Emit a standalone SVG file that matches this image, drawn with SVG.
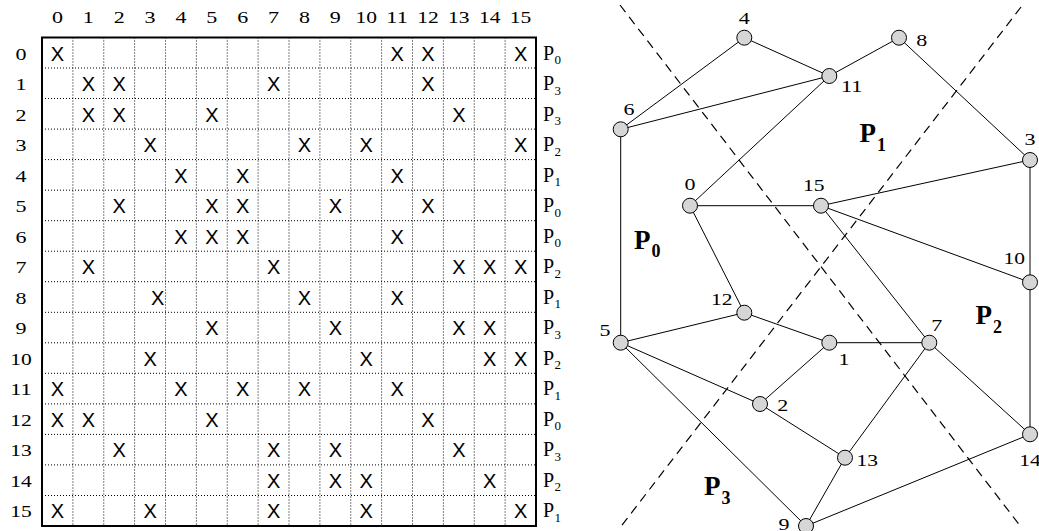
<svg xmlns="http://www.w3.org/2000/svg" width="1039" height="531" viewBox="0 0 1039 531">
  <style>
    .num { font-family: "Liberation Serif", "Times New Roman", serif; font-size: 17px; fill: #000; text-anchor: middle; }
    .x { font-family: "Liberation Sans", Arial, sans-serif; font-size: 20px; fill: #000; text-anchor: middle; }
    .pl { font-family: "Liberation Serif", "Times New Roman", serif; font-size: 20px; fill: #000; }
    .ps { font-family: "Liberation Serif", "Times New Roman", serif; font-size: 13px; fill: #000; }
    .grid { stroke: #000; stroke-width: 1; stroke-dasharray: 1 2; fill: none; }
    .frame { stroke: #000; stroke-width: 2; fill: none; }
    .edge { stroke: #000; stroke-width: 1; fill: none; }
    .cut { stroke: #000; stroke-width: 1.2; stroke-dasharray: 9 6; fill: none; }
    .node circle { fill: #d6d6d6; stroke: #000; stroke-width: 1; }
    .part { font-family: "Liberation Serif", "Times New Roman", serif; font-weight: bold; font-size: 27px; fill: #000; }
    .partsub { font-family: "Liberation Serif", "Times New Roman", serif; font-weight: bold; font-size: 18px; fill: #000; }
  </style>

  <!-- Adjacency matrix -->
  <g id="matrix">
    <path class="grid" d="M72.9 37.5V526M103.75 37.5V526M134.6 37.5V526M165.5 37.5V526M196.4 37.5V526M227.25 37.5V526M258.1 37.5V526M289 37.5V526M319.9 37.5V526M350.75 37.5V526M381.6 37.5V526M412.5 37.5V526M443.4 37.5V526M474.25 37.5V526M505.1 37.5V526
      M42 68H536M42 98.5H536M42 129.1H536M42 159.6H536M42 190.2H536M42 220.7H536M42 251.2H536M42 281.7H536M42 312.3H536M42 342.8H536M42 373.3H536M42 403.9H536M42 434.4H536M42 464.9H536M42 495.5H536"/>
    <rect class="frame" x="42" y="37.5" width="494" height="488.5"/>

    <!-- column indices -->
    <g id="col-labels">
      <text class="num" x="57.4" y="22.5" textLength="11" lengthAdjust="spacingAndGlyphs">0</text>
      <text class="num" x="88.3" y="22.5" textLength="11" lengthAdjust="spacingAndGlyphs">1</text>
      <text class="num" x="119.2" y="22.5" textLength="11" lengthAdjust="spacingAndGlyphs">2</text>
      <text class="num" x="150.1" y="22.5" textLength="11" lengthAdjust="spacingAndGlyphs">3</text>
      <text class="num" x="180.9" y="22.5" textLength="11" lengthAdjust="spacingAndGlyphs">4</text>
      <text class="num" x="211.8" y="22.5" textLength="11" lengthAdjust="spacingAndGlyphs">5</text>
      <text class="num" x="242.7" y="22.5" textLength="11" lengthAdjust="spacingAndGlyphs">6</text>
      <text class="num" x="273.6" y="22.5" textLength="11" lengthAdjust="spacingAndGlyphs">7</text>
      <text class="num" x="304.4" y="22.5" textLength="11" lengthAdjust="spacingAndGlyphs">8</text>
      <text class="num" x="335.3" y="22.5" textLength="11" lengthAdjust="spacingAndGlyphs">9</text>
      <text class="num" x="366.2" y="22.5" textLength="21.5" lengthAdjust="spacingAndGlyphs">10</text>
      <text class="num" x="397.1" y="22.5" textLength="21.5" lengthAdjust="spacingAndGlyphs">11</text>
      <text class="num" x="427.9" y="22.5" textLength="21.5" lengthAdjust="spacingAndGlyphs">12</text>
      <text class="num" x="458.8" y="22.5" textLength="21.5" lengthAdjust="spacingAndGlyphs">13</text>
      <text class="num" x="489.7" y="22.5" textLength="21.5" lengthAdjust="spacingAndGlyphs">14</text>
      <text class="num" x="520.6" y="22.5" textLength="21.5" lengthAdjust="spacingAndGlyphs">15</text>
    </g>

    <!-- row indices -->
    <g id="row-labels">
      <text class="num" x="21" y="59.5" textLength="11" lengthAdjust="spacingAndGlyphs">0</text>
      <text class="num" x="21" y="90" textLength="11" lengthAdjust="spacingAndGlyphs">1</text>
      <text class="num" x="21" y="120.5" textLength="11" lengthAdjust="spacingAndGlyphs">2</text>
      <text class="num" x="21" y="151" textLength="11" lengthAdjust="spacingAndGlyphs">3</text>
      <text class="num" x="21" y="181.5" textLength="11" lengthAdjust="spacingAndGlyphs">4</text>
      <text class="num" x="21" y="212" textLength="11" lengthAdjust="spacingAndGlyphs">5</text>
      <text class="num" x="21" y="242.5" textLength="11" lengthAdjust="spacingAndGlyphs">6</text>
      <text class="num" x="21" y="273" textLength="11" lengthAdjust="spacingAndGlyphs">7</text>
      <text class="num" x="21" y="303.5" textLength="11" lengthAdjust="spacingAndGlyphs">8</text>
      <text class="num" x="21" y="334" textLength="11" lengthAdjust="spacingAndGlyphs">9</text>
      <text class="num" x="21" y="364.6" textLength="21.5" lengthAdjust="spacingAndGlyphs">10</text>
      <text class="num" x="21" y="395.1" textLength="21.5" lengthAdjust="spacingAndGlyphs">11</text>
      <text class="num" x="21" y="425.6" textLength="21.5" lengthAdjust="spacingAndGlyphs">12</text>
      <text class="num" x="21" y="456.2" textLength="21.5" lengthAdjust="spacingAndGlyphs">13</text>
      <text class="num" x="21" y="486.7" textLength="21.5" lengthAdjust="spacingAndGlyphs">14</text>
      <text class="num" x="21" y="517.2" textLength="21.5" lengthAdjust="spacingAndGlyphs">15</text>
    </g>

    <!-- nonzero entries -->
    <g id="entries">
      <text class="x" x="57.4" y="60.5">X</text><text class="x" x="397.1" y="60.5">X</text><text class="x" x="427.9" y="60.5">X</text><text class="x" x="520.6" y="60.5">X</text>
      <text class="x" x="88.3" y="91">X</text><text class="x" x="119.2" y="91">X</text><text class="x" x="273.6" y="91">X</text><text class="x" x="427.9" y="91">X</text>
      <text class="x" x="88.3" y="121.5">X</text><text class="x" x="119.2" y="121.5">X</text><text class="x" x="211.8" y="121.5">X</text><text class="x" x="458.8" y="121.5">X</text>
      <text class="x" x="150.1" y="152">X</text><text class="x" x="304.4" y="152">X</text><text class="x" x="366.2" y="152">X</text><text class="x" x="520.6" y="152">X</text>
      <text class="x" x="180.9" y="182.6">X</text><text class="x" x="242.7" y="182.6">X</text><text class="x" x="397.1" y="182.6">X</text>
      <text class="x" x="119.2" y="213.1">X</text><text class="x" x="211.8" y="213.1">X</text><text class="x" x="242.7" y="213.1">X</text><text class="x" x="335.3" y="213.1">X</text><text class="x" x="427.9" y="213.1">X</text>
      <text class="x" x="180.9" y="243.6">X</text><text class="x" x="211.8" y="243.6">X</text><text class="x" x="242.7" y="243.6">X</text><text class="x" x="397.1" y="243.6">X</text>
      <text class="x" x="88.3" y="274.2">X</text><text class="x" x="273.6" y="274.2">X</text><text class="x" x="458.8" y="274.2">X</text><text class="x" x="489.7" y="274.2">X</text><text class="x" x="520.6" y="274.2">X</text>
      <text class="x" x="157.6" y="304.7">X</text><text class="x" x="304.4" y="304.7">X</text><text class="x" x="397.1" y="304.7">X</text>
      <text class="x" x="211.8" y="335.2">X</text><text class="x" x="335.3" y="335.2">X</text><text class="x" x="458.8" y="335.2">X</text><text class="x" x="489.7" y="335.2">X</text>
      <text class="x" x="150.1" y="365.8">X</text><text class="x" x="366.2" y="365.8">X</text><text class="x" x="489.7" y="365.8">X</text><text class="x" x="520.6" y="365.8">X</text>
      <text class="x" x="57.4" y="396.3">X</text><text class="x" x="180.9" y="396.3">X</text><text class="x" x="242.7" y="396.3">X</text><text class="x" x="304.4" y="396.3">X</text><text class="x" x="397.1" y="396.3">X</text>
      <text class="x" x="57.4" y="426.8">X</text><text class="x" x="88.3" y="426.8">X</text><text class="x" x="211.8" y="426.8">X</text><text class="x" x="427.9" y="426.8">X</text>
      <text class="x" x="119.2" y="457.4">X</text><text class="x" x="273.6" y="457.4">X</text><text class="x" x="335.3" y="457.4">X</text><text class="x" x="458.8" y="457.4">X</text>
      <text class="x" x="273.6" y="487.9">X</text><text class="x" x="335.3" y="487.9">X</text><text class="x" x="366.2" y="487.9">X</text><text class="x" x="489.7" y="487.9">X</text>
      <text class="x" x="57.4" y="518.4">X</text><text class="x" x="150.1" y="518.4">X</text><text class="x" x="273.6" y="518.4">X</text><text class="x" x="366.2" y="518.4">X</text><text class="x" x="520.6" y="518.4">X</text>
    </g>

    <!-- part owning each row -->
    <g id="row-parts">
      <text class="pl" x="543" y="59.5">P</text><text class="ps" x="554.5" y="64">0</text>
      <text class="pl" x="543" y="90">P</text><text class="ps" x="554.5" y="94.5">3</text>
      <text class="pl" x="543" y="120.5">P</text><text class="ps" x="554.5" y="125">3</text>
      <text class="pl" x="543" y="151">P</text><text class="ps" x="554.5" y="155.5">2</text>
      <text class="pl" x="543" y="181.5">P</text><text class="ps" x="554.5" y="186">1</text>
      <text class="pl" x="543" y="212">P</text><text class="ps" x="554.5" y="216.5">0</text>
      <text class="pl" x="543" y="242.5">P</text><text class="ps" x="554.5" y="247">0</text>
      <text class="pl" x="543" y="273">P</text><text class="ps" x="554.5" y="277.5">2</text>
      <text class="pl" x="543" y="303.5">P</text><text class="ps" x="554.5" y="308">1</text>
      <text class="pl" x="543" y="334">P</text><text class="ps" x="554.5" y="338.5">3</text>
      <text class="pl" x="543" y="364.6">P</text><text class="ps" x="554.5" y="369.1">2</text>
      <text class="pl" x="543" y="395.1">P</text><text class="ps" x="554.5" y="399.6">1</text>
      <text class="pl" x="543" y="425.6">P</text><text class="ps" x="554.5" y="430.1">0</text>
      <text class="pl" x="543" y="456.2">P</text><text class="ps" x="554.5" y="460.7">3</text>
      <text class="pl" x="543" y="486.7">P</text><text class="ps" x="554.5" y="491.2">2</text>
      <text class="pl" x="543" y="517.2">P</text><text class="ps" x="554.5" y="521.7">1</text>
    </g>
  </g>

  <!-- Graph: partition cuts -->
  <g id="cuts">
    <line class="cut" x1="620" y1="5" x2="1021" y2="527"/>
    <line class="cut" x1="1021" y1="7" x2="619" y2="529"/>
  </g>

  <!-- Graph: edges -->
  <g id="edges">
    <line class="edge" x1="744.3" y1="37.7" x2="620.7" y2="129.3"/>
    <line class="edge" x1="744.3" y1="37.7" x2="829.3" y2="76"/>
    <line class="edge" x1="829.3" y1="76" x2="899" y2="37.7"/>
    <line class="edge" x1="829.3" y1="76" x2="620.7" y2="129.3"/>
    <line class="edge" x1="829.3" y1="76" x2="690" y2="205.7"/>
    <line class="edge" x1="899" y1="37.7" x2="1030" y2="160"/>
    <line class="edge" x1="1030" y1="160" x2="821" y2="205.7"/>
    <line class="edge" x1="1030" y1="160" x2="1030" y2="282.3"/>
    <line class="edge" x1="690" y1="205.7" x2="821" y2="205.7"/>
    <line class="edge" x1="690" y1="205.7" x2="744.3" y2="312.7"/>
    <line class="edge" x1="821" y1="205.7" x2="1030" y2="282.3"/>
    <line class="edge" x1="821" y1="205.7" x2="929.3" y2="342.7"/>
    <line class="edge" x1="620.7" y1="129.3" x2="620.7" y2="342.7"/>
    <line class="edge" x1="1030" y1="282.3" x2="1030" y2="434.3"/>
    <line class="edge" x1="620.7" y1="342.7" x2="744.3" y2="312.7"/>
    <line class="edge" x1="744.3" y1="312.7" x2="829.3" y2="342.7"/>
    <line class="edge" x1="829.3" y1="342.7" x2="929.3" y2="342.7"/>
    <line class="edge" x1="829.3" y1="342.7" x2="760" y2="404"/>
    <line class="edge" x1="620.7" y1="342.7" x2="760" y2="404"/>
    <line class="edge" x1="620.7" y1="342.7" x2="806" y2="526"/>
    <line class="edge" x1="760" y1="404" x2="845" y2="457.7"/>
    <line class="edge" x1="929.3" y1="342.7" x2="845" y2="457.7"/>
    <line class="edge" x1="929.3" y1="342.7" x2="1030" y2="434.3"/>
    <line class="edge" x1="845" y1="457.7" x2="806" y2="526"/>
    <line class="edge" x1="806" y1="526" x2="1030" y2="434.3"/>
  </g>

  <!-- Graph: vertices -->
  <g id="n0" class="node"><circle cx="690" cy="205.7" r="7.5"/><text class="num" x="690" y="190" textLength="11" lengthAdjust="spacingAndGlyphs">0</text></g>
  <g id="n1" class="node"><circle cx="829.3" cy="342.7" r="7.5"/><text class="num" x="844" y="365" textLength="11" lengthAdjust="spacingAndGlyphs">1</text></g>
  <g id="n2" class="node"><circle cx="760" cy="404" r="7.5"/><text class="num" x="782.7" y="411" textLength="11" lengthAdjust="spacingAndGlyphs">2</text></g>
  <g id="n3" class="node"><circle cx="1030" cy="160" r="7.5"/><text class="num" x="1030" y="145" textLength="11" lengthAdjust="spacingAndGlyphs">3</text></g>
  <g id="n4" class="node"><circle cx="744.3" cy="37.7" r="7.5"/><text class="num" x="744.3" y="23.5" textLength="11" lengthAdjust="spacingAndGlyphs">4</text></g>
  <g id="n5" class="node"><circle cx="620.7" cy="342.7" r="7.5"/><text class="num" x="605" y="336" textLength="11" lengthAdjust="spacingAndGlyphs">5</text></g>
  <g id="n6" class="node"><circle cx="620.7" cy="129.3" r="7.5"/><text class="num" x="629" y="114.5" textLength="11" lengthAdjust="spacingAndGlyphs">6</text></g>
  <g id="n7" class="node"><circle cx="929.3" cy="342.7" r="7.5"/><text class="num" x="936.7" y="330.5" textLength="11" lengthAdjust="spacingAndGlyphs">7</text></g>
  <g id="n8" class="node"><circle cx="899" cy="37.7" r="7.5"/><text class="num" x="921.7" y="46" textLength="11" lengthAdjust="spacingAndGlyphs">8</text></g>
  <g id="n9" class="node"><circle cx="806" cy="526" r="7.5"/><text class="num" x="784" y="530" textLength="11" lengthAdjust="spacingAndGlyphs">9</text></g>
  <g id="n10" class="node"><circle cx="1030" cy="282.3" r="7.5"/><text class="num" x="1014.3" y="264" textLength="21.5" lengthAdjust="spacingAndGlyphs">10</text></g>
  <g id="n11" class="node"><circle cx="829.3" cy="76" r="7.5"/><text class="num" x="851.7" y="92" textLength="21.5" lengthAdjust="spacingAndGlyphs">11</text></g>
  <g id="n12" class="node"><circle cx="744.3" cy="312.7" r="7.5"/><text class="num" x="721.7" y="305" textLength="21.5" lengthAdjust="spacingAndGlyphs">12</text></g>
  <g id="n13" class="node"><circle cx="845" cy="457.7" r="7.5"/><text class="num" x="867.3" y="465.5" textLength="21.5" lengthAdjust="spacingAndGlyphs">13</text></g>
  <g id="n14" class="node"><circle cx="1030" cy="434.3" r="7.5"/><text class="num" x="1030" y="465.5" textLength="21.5" lengthAdjust="spacingAndGlyphs">14</text></g>
  <g id="n15" class="node"><circle cx="821" cy="205.7" r="7.5"/><text class="num" x="813.7" y="190.5" textLength="21.5" lengthAdjust="spacingAndGlyphs">15</text></g>

  <!-- Graph: part names -->
  <g id="part-labels">
    <text class="part" x="634" y="248.5">P</text><text class="partsub" x="651.5" y="257">0</text>
    <text class="part" x="859.5" y="142">P</text><text class="partsub" x="877" y="150.5">1</text>
    <text class="part" x="975.5" y="323.5">P</text><text class="partsub" x="993" y="332.5">2</text>
    <text class="part" x="704" y="495">P</text><text class="partsub" x="721.5" y="503.5">3</text>
  </g>
</svg>
